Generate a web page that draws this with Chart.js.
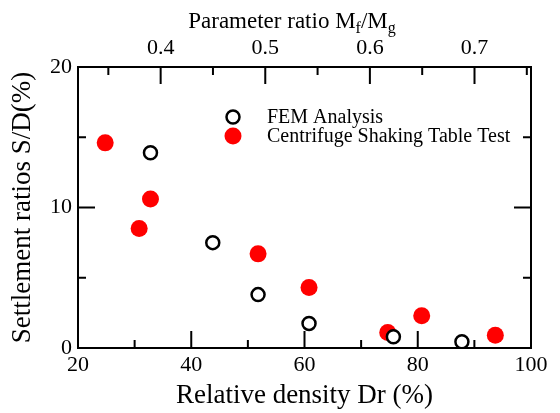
<!DOCTYPE html>
<html>
<head>
<meta charset="utf-8">
<script src="https://cdn.jsdelivr.net/npm/chart.js@4"></script>
<style>
  html, body { margin: 0; padding: 0; background: #fff; }
  #wrap { width: 560px; height: 413px; }
</style>
</head>
<body>
<div id="wrap"><canvas id="settleChart"></canvas></div>
<script>
// Relative density Dr (%) vs settlement ratio S/D (%)
const femDr = [32.8, 43.8, 51.8, 60.8, 75.7, 87.8];
const femSD = [13.9, 7.5, 3.8, 1.75, 0.8, 0.45];
const testDr = [24.8, 30.8, 32.8, 51.8, 60.8, 74.7, 80.7, 93.7];
const testSD = [14.6, 8.5, 10.6, 6.7, 4.3, 1.1, 2.3, 0.9];

// axis ticks (all tick marks) and the ones that get a label
const drTicks = [20, 30, 40, 50, 60, 70, 80, 90, 100];
const drLabels = [20, 40, 60, 80, 100];
const ratioTicks = [0.35, 0.4, 0.45, 0.5, 0.55, 0.6, 0.65, 0.7, 0.75];
const ratioLabels = [0.4, 0.5, 0.6, 0.7];
const sdTicks = [0, 5, 10, 15, 20];
const sdLabels = [0, 10, 20];

const seriesNames = ['FEM Analysis', 'Centrifuge Shaking Table Test'];

const SERIF = "'Liberation Serif', 'Times New Roman', serif";
const has = (arr, v) => arr.some(a => Math.abs(a - v) < 1e-6);

function setTicks(list) {
  return scale => { scale.ticks = list.map(v => ({ value: v })); };
}

// frame with inward ticks on all four sides
const framePlugin = {
  id: 'frame',
  beforeDatasetsDraw(chart) {
    const { ctx, chartArea: a, scales } = chart;
    ctx.save();
    ctx.strokeStyle = '#000';
    ctx.lineWidth = 2;
    ctx.strokeRect(a.left, a.top, a.right - a.left, a.bottom - a.top);
    ctx.beginPath();
    drTicks.forEach(v => {
      const x = scales.x.getPixelForValue(v);
      const len = has(drLabels, v) ? 17 : 8;
      ctx.moveTo(x, a.bottom); ctx.lineTo(x, a.bottom - len);
    });
    ratioTicks.forEach(v => {
      const x = scales.x2.getPixelForValue(v);
      const len = has(ratioLabels, v) ? 17 : 8;
      ctx.moveTo(x, a.top); ctx.lineTo(x, a.top + len);
    });
    sdTicks.forEach(v => {
      const y = scales.y.getPixelForValue(v);
      const len = has(sdLabels, v) ? 17 : 8;
      ctx.moveTo(a.left, y); ctx.lineTo(a.left + len, y);
      ctx.moveTo(a.right, y); ctx.lineTo(a.right - len, y);
    });
    ctx.stroke();
    ctx.restore();
  },
  afterDraw(chart) {
    const { ctx } = chart;
    ctx.save();
    // top axis title with subscripts
    const big = '23px ' + SERIF, small = '16px ' + SERIF;
    const parts = [['Parameter ratio M', big, 0], ['f', small, 5], ['/M', big, 0], ['g', small, 5]];
    let w = 0;
    parts.forEach(p => { ctx.font = p[1]; w += ctx.measureText(p[0]).width; });
    let x = 292 - w / 2;
    const base = 28;
    ctx.fillStyle = '#000';
    ctx.textBaseline = 'alphabetic';
    ctx.textAlign = 'left';
    parts.forEach(p => {
      ctx.font = p[1];
      ctx.fillText(p[0], x, base + p[2]);
      x += ctx.measureText(p[0]).width;
    });

    // legend inside the plot
    const ds = chart.data.datasets;
    const lx = 233, rows = [117, 136];
    ctx.font = '20px ' + SERIF;
    ctx.textBaseline = 'middle';
    ds.forEach((d, i) => {
      ctx.beginPath();
      ctx.arc(lx, rows[i], d.pointRadius, 0, Math.PI * 2);
      ctx.fillStyle = d.pointBackgroundColor;
      ctx.fill();
      if (d.pointBorderWidth) {
        ctx.lineWidth = d.pointBorderWidth;
        ctx.strokeStyle = d.pointBorderColor;
        ctx.stroke();
      }
      ctx.fillStyle = '#000';
      ctx.fillText(d.label, 267, rows[i] + 1);
    });
    ctx.restore();
  }
};

const toXY = (xs, ys) => xs.map((v, i) => ({ x: v, y: ys[i] }));

new Chart(document.getElementById('settleChart'), {
  type: 'scatter',
  data: {
    datasets: [{
      label: seriesNames[0],
      data: toXY(femDr, femSD),
      pointRadius: 6.5,
      pointBackgroundColor: '#fff',
      pointBorderColor: '#000',
      pointBorderWidth: 2.5,
      xAxisID: 'x',
      yAxisID: 'y'
    }, {
      label: seriesNames[1],
      data: toXY(testDr, testSD),
      pointRadius: 8.5,
      pointBackgroundColor: '#ff0000',
      pointBorderColor: '#ff0000',
      pointBorderWidth: 0,
      xAxisID: 'x',
      yAxisID: 'y'
    }]
  },
  options: {
    responsive: true,
    maintainAspectRatio: false,
    animation: false,
    layout: { padding: 0 },
    plugins: { legend: { display: false }, tooltip: { enabled: false } },
    scales: {
      x: {
        type: 'linear', position: 'bottom', min: 20, max: 100,
        afterBuildTicks: setTicks(drLabels),
        afterFit: s => { s.height = 65; },
        grid: { display: false, drawTicks: false },
        border: { display: false },
        ticks: { padding: 4, color: '#000', font: { family: SERIF, size: 22 }, maxRotation: 0 },
        title: { display: true, text: 'Relative density Dr (%)', color: '#000',
                 font: { family: SERIF, size: 27 }, padding: { top: 0, bottom: 1 } }
      },
      x2: {
        type: 'linear', position: 'top', min: 0.321, max: 0.754,
        afterBuildTicks: setTicks(ratioLabels),
        afterFit: s => { s.height = 67; },
        grid: { display: false, drawTicks: false },
        border: { display: false },
        ticks: { padding: 6, color: '#000', font: { family: SERIF, size: 22 }, maxRotation: 0,
                 callback: v => v.toFixed(1) }
      },
      y: {
        type: 'linear', position: 'left', min: 0, max: 20,
        afterBuildTicks: setTicks(sdLabels),
        afterFit: s => { s.width = 78; },
        grid: { display: false, drawTicks: false },
        border: { display: false },
        ticks: { padding: 6, color: '#000', font: { family: SERIF, size: 22 } },
        title: { display: true, text: 'Settlement ratios S/D(%)', color: '#000',
                 font: { family: SERIF, size: 27 }, padding: { top: 7, bottom: 0 } }
      },
      y2: {
        type: 'linear', position: 'right', min: 0, max: 20,
        afterFit: s => { s.width = 29; },
        grid: { display: false, drawTicks: false },
        border: { display: false },
        ticks: { display: false }
      }
    }
  },
  plugins: [framePlugin]
});
</script>
</body>
</html>
